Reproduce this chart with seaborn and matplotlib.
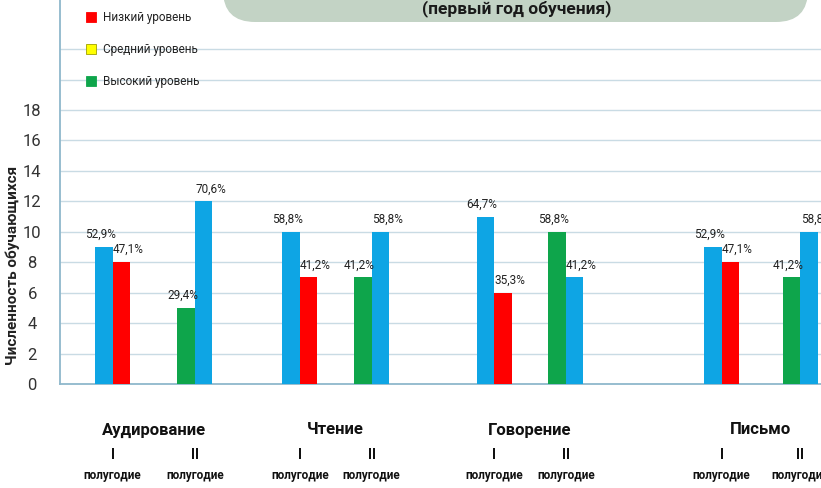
import matplotlib
matplotlib.use("Agg")
import matplotlib.pyplot as plt
import seaborn as sns
import pandas as pd
from matplotlib import font_manager
from matplotlib.patches import FancyBboxPatch
from matplotlib.lines import Line2D
from matplotlib.transforms import IdentityTransform

# ---------------- data ----------------
subjects = ["Аудирование", "Чтение", "Говорение", "Письмо"]
half_numbers = ["I", "II"]
half_word = "полугодие"
title_text = "(первый год обучения)"
y_label = "Численность обучающихся"
legend_labels = ["Низкий уровень", "Средний уровень", "Высокий уровень"]

# I полугодие: blue bar then red bar
h1_blue = [9, 10, 11, 9]
h1_red = [8, 7, 6, 8]
# II полугодие: green bar then blue bar
h2_green = [5, 7, 10, 7]
h2_blue = [12, 10, 7, 10]

y_ticks_shown = [0, 2, 4, 6, 8, 10, 12, 14, 16, 18]

# ---------------- layout / style ----------------
W, H = 821, 488
PX_PER_UNIT = 17.5                 # one bar width in pixels
slot_centers = [3.0, 7.7, 13.7, 17.8, 24.8, 28.9, 37.8, 42.3]   # half-year cluster centres (bar widths)
colors = {"blue": "#0ea5e4", "red": "#ff0000", "yellow": "#ffff00", "green": "#0ea54b"}

sns.set_style("white")
installed = {f.name for f in font_manager.fontManager.ttflist}
main_font = "Liberation Sans Narrow" if "Liberation Sans Narrow" in installed else "Roboto"
plt.rcParams["font.family"] = [main_font, "DejaVu Sans"]

rows = []
for i, subj in enumerate(subjects):
    c1, c2 = slot_centers[2 * i], slot_centers[2 * i + 1]
    t1 = h1_blue[i] + h1_red[i]
    t2 = h2_green[i] + h2_blue[i]
    rows.append(dict(x=c1 - 0.5, value=h1_blue[i], level="blue", side="L", total=t1))
    rows.append(dict(x=c1 + 0.5, value=h1_red[i], level="red", side="R", total=t1))
    rows.append(dict(x=c2 - 0.5, value=h2_green[i], level="green", side="L", total=t2))
    rows.append(dict(x=c2 + 0.5, value=h2_blue[i], level="blue", side="R", total=t2))
df = pd.DataFrame(rows)

fig = plt.figure(figsize=(W / 100, H / 100), dpi=100)
ax = fig.add_axes([60 / W, 104 / H, (W - 60) / W, 384 / H])

sns.barplot(data=df, x="x", y="value", hue="level", palette=colors,
            native_scale=True, dodge=False, width=1.0, saturation=1,
            errorbar=None, legend=False, linewidth=0, ax=ax, zorder=3)

ax.set_xlim(0, (W - 60) / PX_PER_UNIT)
ax.set_ylim(0, 384 / 15.22)

# grid and axes
grid_ticks = list(range(0, 23, 2))
ax.set_yticks(grid_ticks)
ax.set_yticklabels([str(t) if t in y_ticks_shown else "" for t in grid_ticks])
ax.yaxis.grid(True, color="#c9dbe4", linewidth=1.0, zorder=0)
ax.xaxis.grid(False)
ax.set_axisbelow(True)
ax.set_xticks([])
ax.set_xlabel("")
for s in ["top", "right"]:
    ax.spines[s].set_visible(False)
for s in ["left", "bottom"]:
    ax.spines[s].set_color("#8fb8cc")
    ax.spines[s].set_linewidth(1.3)
ax.tick_params(axis="y", length=0, pad=20, labelsize=12, labelcolor="#333333")
for lab in ax.get_yticklabels():
    lab.set_horizontalalignment("center")

ax.set_ylabel(y_label, fontsize=11, fontweight="bold", color="#222222", va="center")
ax.yaxis.set_label_coords(-(60 - 13) / (W - 60), 0.31)

# percentage labels
for _, r in df.iterrows():
    pct = r["value"] / r["total"] * 100
    txt = f"{pct:.1f}%".replace(".", ",")
    dx = -0.2 if r["side"] == "L" else 0.4
    ax.text(r["x"] + dx, r["value"] + 0.4, txt, ha="center", va="bottom",
            fontsize=8.5, color="#222222", zorder=4)

# category labels under the axis
def under(x, text, dy_px, size, weight="bold"):
    ax.annotate(text, xy=(x, 0), xycoords=("data", "axes fraction"),
                xytext=(0, -dy_px * 0.72), textcoords="offset points",
                ha="center", va="center", fontsize=size, fontweight=weight,
                color="#111111", annotation_clip=False)

for i, subj in enumerate(subjects):
    c1, c2 = slot_centers[2 * i], slot_centers[2 * i + 1]
    under((c1 + c2) / 2, subj, 46, 12)
    for c, num in zip((c1, c2), half_numbers):
        under(c, num, 71, 10)
        under(c, half_word, 92, 8.5)

# legend
handles = [Line2D([0], [0], marker="s", linestyle="none", markersize=6.5,
                  markerfacecolor=colors[k], markeredgecolor=e, markeredgewidth=0.6)
           for k, e in (("red", colors["red"]), ("yellow", "#a0a000"), ("green", colors["green"]))]
ax.legend(handles, legend_labels, loc="upper left", bbox_to_anchor=(86 / W, 1 - 11 / H),
          bbox_transform=fig.transFigure, frameon=False, fontsize=8.5,
          handlelength=0.85, handletextpad=0.55, labelspacing=1.6,
          borderpad=0, borderaxespad=0, labelcolor="#222222")

# title box (cropped at top)
box = FancyBboxPatch((223, H - 22), 585, 80, boxstyle="round,pad=0,rounding_size=32",
                     transform=IdentityTransform(), facecolor="#c3d3c5", edgecolor="none",
                     zorder=5)
fig.add_artist(box)
fig.text(517 / W, (H - 13) / H, title_text, ha="center", va="baseline",
         fontsize=12.5, fontweight="bold", color="#1a1a1a", zorder=6)

fig.savefig("out.png", dpi=100)
